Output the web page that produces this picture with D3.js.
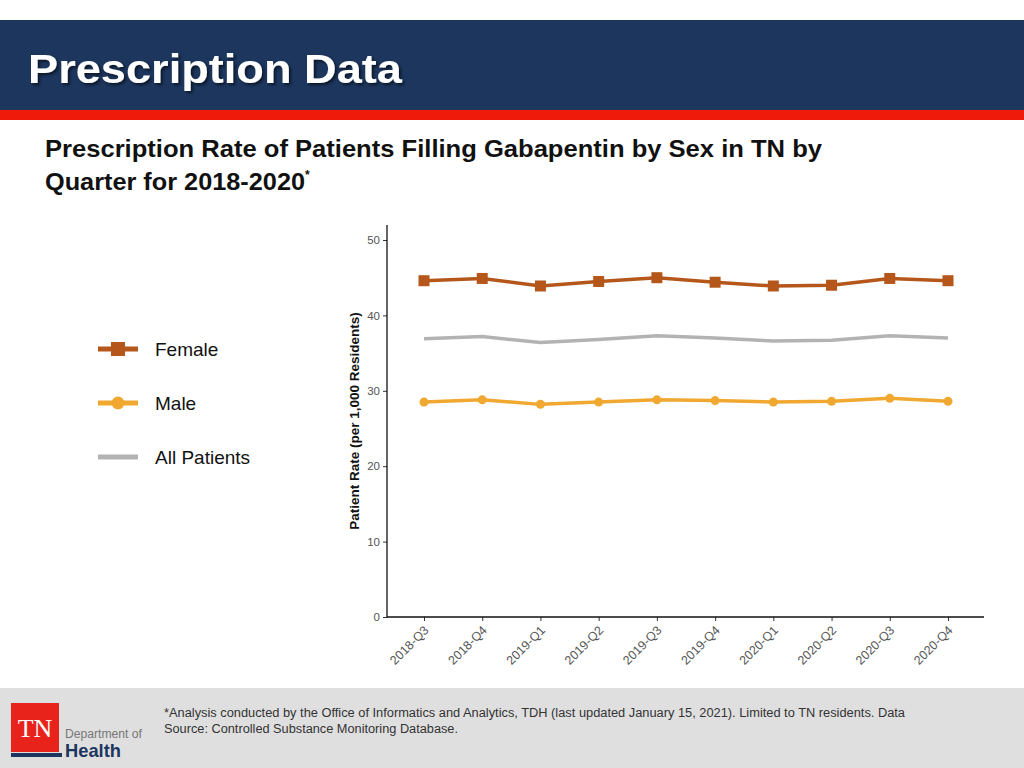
<!DOCTYPE html>
<html><head><meta charset="utf-8">
<script src="https://cdn.jsdelivr.net/npm/d3@7"></script>
<style>body{margin:0;background:#fff;}svg{display:block;font-family:"Liberation Sans",Arial,sans-serif;}</style>
</head><body>
<svg id="c" width="1024" height="768"></svg>
<script>
const quarters = ["2018-Q3","2018-Q4","2019-Q1","2019-Q2","2019-Q3","2019-Q4","2020-Q1","2020-Q2","2020-Q3","2020-Q4"];
const female = [44.6,44.9,43.9,44.5,45.0,44.4,43.9,44.0,44.9,44.6];
const male = [28.5,28.8,28.2,28.5,28.8,28.7,28.5,28.6,29.0,28.6];
const allPatients = [36.9,37.2,36.4,36.8,37.3,37.0,36.6,36.7,37.3,37.0];
const yTicks = [0,10,20,30,40,50];
const seriesNames = ["Female","Male","All Patients"];

const svg = d3.select("#c");
// header
svg.append("rect").attr("x",0).attr("y",20).attr("width",1024).attr("height",90).attr("fill","#1c365e");
svg.append("rect").attr("x",0).attr("y",110).attr("width",1024).attr("height",10).attr("fill","#f01a0a");
const defs = svg.append("defs");
const f = defs.append("filter").attr("id","sh").attr("x","-5%").attr("y","-20%").attr("width","110%").attr("height","150%");
f.append("feDropShadow").attr("dx",2).attr("dy",2).attr("stdDeviation",1.5).attr("flood-color","#000").attr("flood-opacity",0.6);
svg.append("text").attr("x",28).attr("y",83).attr("fill","#fff").attr("font-size",40).attr("font-weight","bold")
  .attr("textLength",374).attr("lengthAdjust","spacingAndGlyphs").attr("filter","url(#sh)").text("Prescription Data");
// subtitle
svg.append("text").attr("x",45).attr("y",157).attr("fill","#111").attr("font-size",24).attr("font-weight","bold")
  .attr("textLength",777).attr("lengthAdjust","spacingAndGlyphs").text("Prescription Rate of Patients Filling Gabapentin by Sex in TN by");
const st2 = svg.append("text").attr("x",45).attr("y",190).attr("fill","#111").attr("font-size",24).attr("font-weight","bold");
st2.append("tspan").attr("textLength",260).attr("lengthAdjust","spacingAndGlyphs").text("Quarter for 2018-2020");
st2.append("tspan").attr("font-size",12).attr("dy",-11).text("*");

// footer
svg.append("rect").attr("x",0).attr("y",688).attr("width",1024).attr("height",80).attr("fill","#dfdfdf");
svg.append("text").attr("x",164).attr("y",717).attr("fill","#333").attr("font-size",12)
  .attr("textLength",741).attr("lengthAdjust","spacingAndGlyphs")
  .text("*Analysis conducted by the Office of Informatics and Analytics, TDH (last updated January 15, 2021). Limited to TN residents. Data");
svg.append("text").attr("x",164).attr("y",733).attr("fill","#333").attr("font-size",12)
  .attr("textLength",294).attr("lengthAdjust","spacingAndGlyphs")
  .text("Source: Controlled Substance Monitoring Database.");
// logo
svg.append("rect").attr("x",11).attr("y",703).attr("width",48).attr("height",49).attr("fill","#e8231b");
svg.append("text").attr("x",35).attr("y",737).attr("text-anchor","middle").attr("fill","#fff").attr("font-size",26)
  .attr("font-family","Liberation Serif, serif").text("TN");
svg.append("rect").attr("x",11).attr("y",753).attr("width",51).attr("height",4).attr("fill","#1c365e");
svg.append("text").attr("x",65).attr("y",738).attr("fill","#777").attr("font-size",12).attr("textLength",77).attr("lengthAdjust","spacingAndGlyphs").text("Department of");
svg.append("text").attr("x",65).attr("y",757).attr("fill","#1c365e").attr("font-size",19).attr("font-weight","bold").attr("textLength",56).attr("lengthAdjust","spacingAndGlyphs").text("Health");

// chart
const x = d3.scalePoint().domain(quarters).range([424,948]);
const y = d3.scaleLinear().domain([0,50]).range([617,240]);
const axL = 387, axR = 984, axTop = 225;
const g = svg.append("g");
// y axis
const ya = g.append("g").attr("transform",`translate(${axL},0)`)
  .call(d3.axisLeft(y).tickValues(yTicks).tickSize(4).tickPadding(3));
ya.select(".domain").remove();
ya.selectAll("line").attr("stroke","#333");
ya.selectAll("text").attr("fill","#555").attr("font-size",11.5).attr("font-family","Liberation Sans, Arial, sans-serif");
g.append("line").attr("x1",axL).attr("x2",axL).attr("y1",axTop).attr("y2",617.5).attr("stroke","#111").attr("stroke-width",1.3);
// x axis
const xa = g.append("g").attr("transform","translate(0,617)")
  .call(d3.axisBottom(x).tickSize(4).tickPadding(3));
xa.select(".domain").remove();
xa.selectAll("line").attr("stroke","#333");
xa.selectAll("text").attr("fill","#555").attr("font-size",12.5).attr("font-family","Liberation Sans, Arial, sans-serif")
  .attr("text-anchor","end").attr("y",0).attr("dy",0).attr("transform","translate(5,14) rotate(-45)");
g.append("line").attr("x1",axL).attr("x2",axR).attr("y1",617).attr("y2",617).attr("stroke","#111").attr("stroke-width",1.3);
// y label
svg.append("text").attr("transform","translate(359,421) rotate(-90)").attr("text-anchor","middle")
  .attr("font-size",13.5).attr("font-weight","bold").attr("fill","#111").text("Patient Rate (per 1,000 Residents)");

const line = d3.line().x((d,i)=>x(quarters[i])).y(d=>y(d));
const colors = {"Female":"#b5561a","Male":"#f0a830","All Patients":"#b3b3b3"};
g.append("path").datum(allPatients).attr("d",line).attr("fill","none").attr("stroke",colors["All Patients"]).attr("stroke-width",3.5);
g.append("path").datum(male).attr("d",line).attr("fill","none").attr("stroke",colors["Male"]).attr("stroke-width",3.5);
g.selectAll(".mc").data(male).enter().append("circle").attr("cx",(d,i)=>x(quarters[i])).attr("cy",d=>y(d)).attr("r",4.5).attr("fill",colors["Male"]);
g.append("path").datum(female).attr("d",line).attr("fill","none").attr("stroke",colors["Female"]).attr("stroke-width",3.5);
g.selectAll(".fs").data(female).enter().append("rect").attr("x",(d,i)=>x(quarters[i])-5.5).attr("y",d=>y(d)-5.5).attr("width",11).attr("height",11).attr("fill",colors["Female"]);

// legend
const leg = svg.append("g");
seriesNames.forEach((n,i)=>{
  const ly = 349 + i*54;
  leg.append("line").attr("x1",98).attr("x2",138).attr("y1",ly).attr("y2",ly).attr("stroke",colors[n]).attr("stroke-width",5);
  if(n==="Female") leg.append("rect").attr("x",111).attr("y",ly-7).attr("width",14).attr("height",14).attr("fill",colors[n]);
  if(n==="Male") leg.append("circle").attr("cx",118).attr("cy",ly).attr("r",6.5).attr("fill",colors[n]);
  leg.append("text").attr("x",155).attr("y",ly+7).attr("font-size",19).attr("fill","#111").text(n);
});
</script>
</body></html>
